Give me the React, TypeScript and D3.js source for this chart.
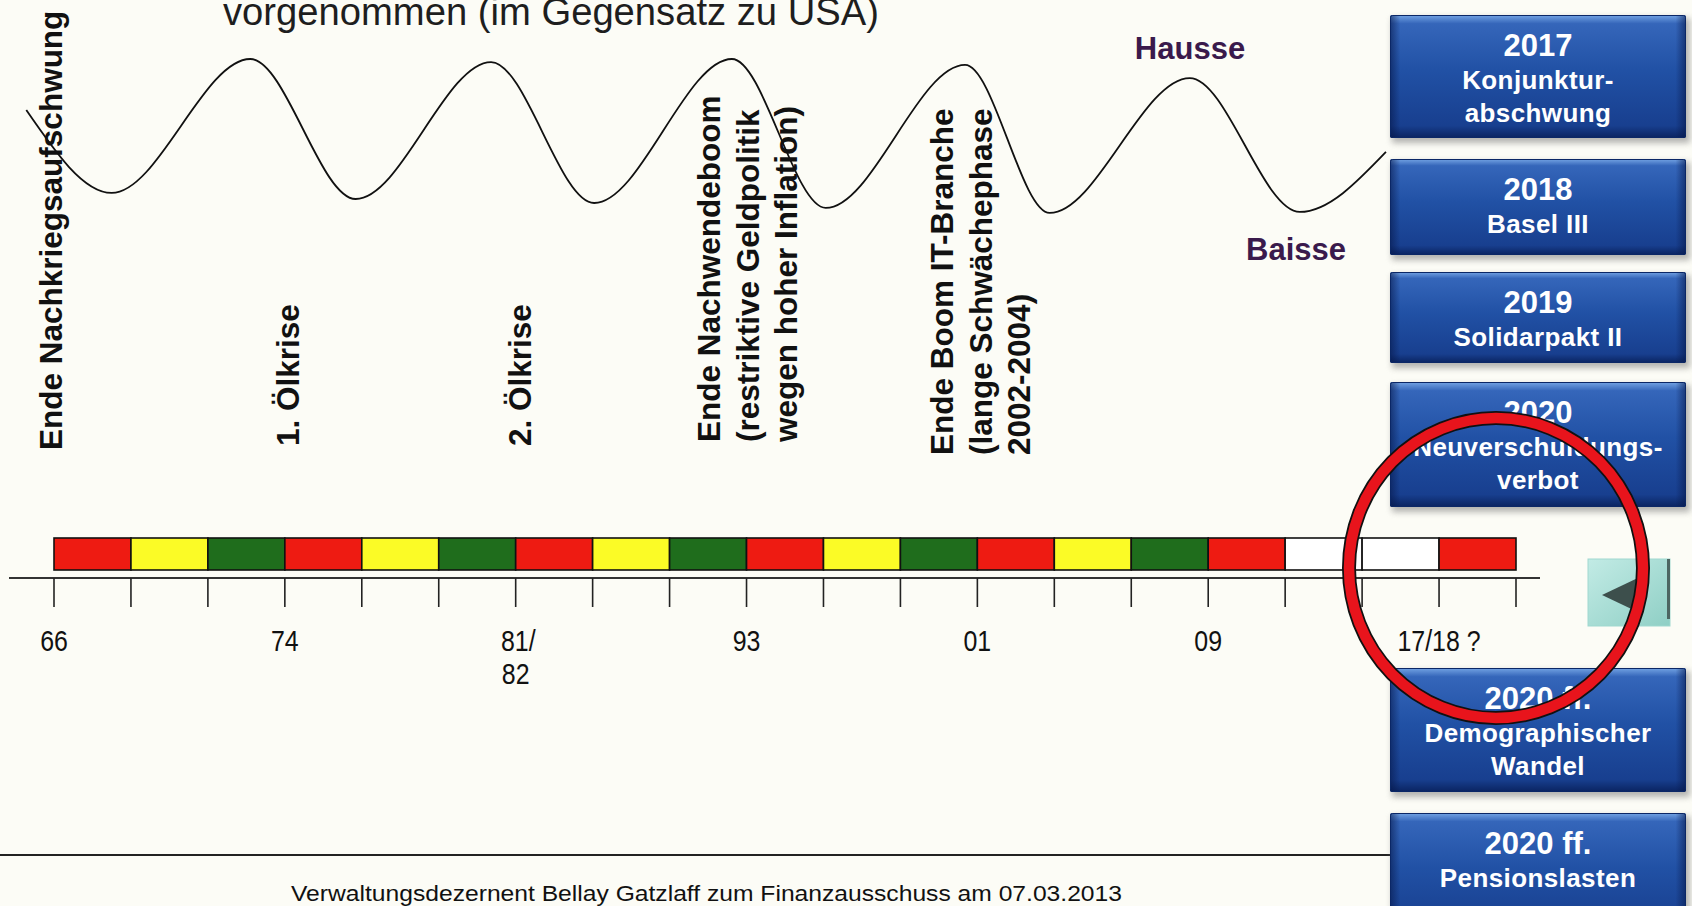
import React from "react";
import * as d3 from "d3";

const W = 1692;
const H = 906;

// ---- data ----
const phaseColors = [
  "red", "yellow", "green", "red", "yellow", "green", "red", "yellow", "green",
  "red", "yellow", "green", "red", "yellow", "green", "red", "none", "none", "red",
];
const tickLabelIndex = [0, 3, 6, 9, 12, 15, 18];
const tickLabelText = [["66"], ["74"], ["81/", "82"], ["93"], ["01"], ["09"], ["17/18 ?"]];

// economic wave: position in phase units, level 0 (Baisse) .. 100 (Hausse)
const wavePhase = [-0.36, 0.75, 2.55, 3.92, 5.68, 7.02, 8.81, 10.03, 11.84, 12.94, 14.76, 16.19, 17.31];
const waveLevel = [65.6, 13.8, 97.5, 10, 95.6, 7.5, 97.5, 4.4, 93.8, 1.3, 85.6, 1.9, 39.4];

const eventLines = [
  ["Ende Nachkriegsaufschwung"],
  ["1. Ölkrise"],
  ["2. Ölkrise"],
  ["Ende Nachwendeboom", "(restriktive Geldpolitik", "wegen hoher Inflation)"],
  ["Ende Boom IT-Branche", "(lange Schwächephase", "2002-2004)"],
];

const boxYears = ["2017", "2018", "2019", "2020", "2020 ff.", "2020 ff."];
const boxTopics = [
  ["Konjunktur-", "abschwung"],
  ["Basel III"],
  ["Solidarpakt II"],
  ["Neuverschuldungs-", "verbot"],
  ["Demographischer", "Wandel"],
  ["Pensionslasten"],
];

const titleText = "vorgenommen (im Gegensatz zu USA)";
const footerText = "Verwaltungsdezernent Bellay Gatzlaff zum Finanzausschuss am 07.03.2013";

// ---- layout ----
const colorMap: Record<string, string> = {
  red: "#ee1b12",
  yellow: "#fbfb26",
  green: "#1f6d1c",
  none: "#ffffff",
};
const eventPos = [
  { x: 62, y: 450 },
  { x: 299, y: 446 },
  { x: 531, y: 446 },
  { x: 720, y: 442 },
  { x: 953, y: 455 },
];
const boxFrames = [
  [15, 138],
  [159, 255],
  [272, 363],
  [382, 507],
  [668, 792],
  [813, 935],
];

const SANS = "'Liberation Sans', Arial, Helvetica, sans-serif";
const NARROW = "'Liberation Sans Narrow', 'Arial Narrow', 'Liberation Sans', sans-serif";

export default function App() {
  const xs = d3.scaleLinear().domain([0, phaseColors.length]).range([54, 1516]);
  const ys = d3.scaleLinear().domain([0, 100]).range([215, 55]);

  const barTop = 538;
  const barH = 32;
  const axisY = 578;

  const line = d3
    .line<number>()
    .x((_, i) => xs(wavePhase[i]))
    .y((d) => ys(d))
    .curve(d3.curveMonotoneX);

  const boxX = 1390;
  const boxW = 296;

  return (
    <svg
      width={W}
      height={H}
      viewBox={`0 0 ${W} ${H}`}
      style={{ position: "absolute", left: 0, top: 0, display: "block" }}
    >
      <defs>
        <linearGradient id="boxV" x1="0" y1="0" x2="0" y2="1">
          <stop offset="0" stopColor="#74a4e4" />
          <stop offset="0.07" stopColor="#3566ba" />
          <stop offset="0.45" stopColor="#2151a5" />
          <stop offset="0.9" stopColor="#183f8f" />
          <stop offset="1" stopColor="#0a2360" />
        </linearGradient>
        <linearGradient id="boxH" x1="0" y1="0" x2="1" y2="0">
          <stop offset="0" stopColor="#06184a" stopOpacity="0.6" />
          <stop offset="0.035" stopColor="#06184a" stopOpacity="0" />
          <stop offset="0.965" stopColor="#06184a" stopOpacity="0" />
          <stop offset="1" stopColor="#06184a" stopOpacity="0.6" />
        </linearGradient>
        <linearGradient id="btn" x1="0" y1="0" x2="1" y2="1">
          <stop offset="0" stopColor="#c2ebe5" />
          <stop offset="1" stopColor="#8fcfc5" />
        </linearGradient>
        <filter id="shadow" x="-10%" y="-20%" width="120%" height="140%">
          <feGaussianBlur stdDeviation="3" />
        </filter>
      </defs>

      <rect x={0} y={0} width={W} height={H} fill="#fcfcf6" />

      {/* title (cut at top, as in the source) */}
      <text
        x={223}
        y={25}
        fontFamily={SANS}
        fontSize={38}
        fill="#1e1e1e"
        textLength={656}
        lengthAdjust="spacingAndGlyphs"
      >
        {titleText}
      </text>

      {/* wave */}
      <path d={line(waveLevel) || ""} fill="none" stroke="#111" strokeWidth={1.8} />

      <text x={1190} y={59} textAnchor="middle" fontFamily={SANS} fontWeight="bold" fontSize={31} fill="#3a1a4c">
        Hausse
      </text>
      <text x={1296} y={260} textAnchor="middle" fontFamily={SANS} fontWeight="bold" fontSize={31} fill="#3a1a4c">
        Baisse
      </text>

      {/* event labels */}
      {eventLines.map((lines, i) => (
        <text
          key={i}
          transform={`translate(${eventPos[i].x},${eventPos[i].y}) rotate(-90)`}
          fontFamily={SANS}
          fontWeight="bold"
          fontSize={31.5}
          fill="#111"
        >
          {lines.map((l, j) => (
            <tspan key={j} x={0} y={j * 38.5}>
              {l}
            </tspan>
          ))}
        </text>
      ))}

      {/* phase bar */}
      {phaseColors.map((c, i) => (
        <rect
          key={i}
          x={xs(i)}
          y={barTop}
          width={xs(i + 1) - xs(i)}
          height={barH}
          fill={colorMap[c]}
          stroke="#111"
          strokeWidth={1.6}
        />
      ))}

      {/* axis */}
      <line x1={9} x2={1540} y1={axisY} y2={axisY} stroke="#333" strokeWidth={2.2} />
      {d3.range(phaseColors.length + 1).map((i) => (
        <line key={i} x1={xs(i)} x2={xs(i)} y1={axisY} y2={607} stroke="#222" strokeWidth={1.6} />
      ))}
      {tickLabelIndex.map((ti, k) => (
        <text
          key={k}
          transform={`translate(${xs(ti)},651) scale(0.86,1)`}
          textAnchor="middle"
          fontFamily={NARROW}
          fontSize={29}
          fill="#111"
        >
          {tickLabelText[k].map((l, j) => (
            <tspan key={j} x={tickLabelText[k].length > 1 && j === 0 ? 3 : 0} y={j * 33}>
              {l}
            </tspan>
          ))}
        </text>
      ))}

      {/* footer */}
      <line x1={0} x2={1390} y1={855} y2={855} stroke="#222" strokeWidth={2} />
      <text
        x={291}
        y={901}
        fontFamily={NARROW}
        fontSize={22}
        fill="#111"
        textLength={831}
        lengthAdjust="spacingAndGlyphs"
      >
        {footerText}
      </text>

      {/* right boxes */}
      {boxYears.map((yr, i) => {
        const [t, b] = boxFrames[i];
        return (
          <g key={i}>
            <rect x={boxX + 2} y={t + 3} width={boxW + 2} height={b - t + 2} fill="#777" opacity={0.55} filter="url(#shadow)" />
            <rect x={boxX} y={t} width={boxW} height={b - t} fill="url(#boxV)" rx={2} />
            <rect x={boxX} y={t} width={boxW} height={b - t} fill="url(#boxH)" rx={2} />
            <rect x={boxX + 0.5} y={t + 0.5} width={boxW - 1} height={b - t - 1} fill="none" stroke="#0b2766" strokeWidth={1} rx={2} />
            <text
              x={boxX + boxW / 2}
              y={t + 41}
              textAnchor="middle"
              fontFamily={SANS}
              fontWeight="bold"
              fontSize={31}
              fill="#ffffff"
            >
              {yr}
            </text>
            {boxTopics[i].map((l, j) => (
              <text
                key={j}
                x={boxX + boxW / 2}
                y={t + 74 + j * 33}
                textAnchor="middle"
                fontFamily={SANS}
                fontWeight="bold"
                fontSize={26}
                letterSpacing={0.4}
                fill="#ffffff"
              >
                {l}
              </text>
            ))}
          </g>
        );
      })}

      {/* navigation button */}
      <rect x={1588} y={559} width={82} height={67} fill="url(#btn)" stroke="#9fd8cf" strokeWidth={1} />
      <rect x={1667} y={559} width={3} height={60} fill="#4d6662" />
      <path d="M1602,595 L1642,576 L1642,614 Z" fill="#3d4f4c" />

      {/* red highlight ring */}
      <ellipse cx={1496} cy={568} rx={147} ry={150} fill="none" stroke="#111" strokeWidth={14} />
      <ellipse cx={1496} cy={568} rx={147} ry={150} fill="none" stroke="#e8141c" strokeWidth={10.5} />
    </svg>
  );
}
